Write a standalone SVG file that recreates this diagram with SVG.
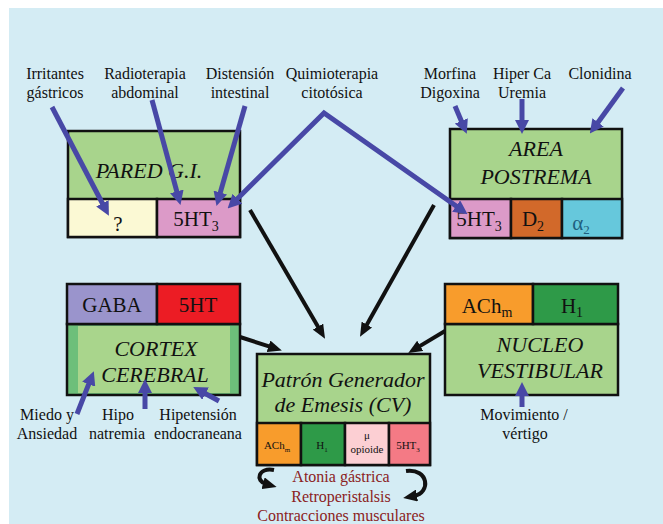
<svg xmlns="http://www.w3.org/2000/svg" width="663" height="524" viewBox="0 0 663 524" font-family="Liberation Serif, DejaVu Serif, serif">
<defs>
<style>
text{font-family:'Liberation Serif','DejaVu Serif',serif;fill:#111}
.lbl{font-size:16px;text-anchor:middle}
.ttl{font-size:22px;font-style:italic;text-anchor:middle}
.cell{font-size:21px;text-anchor:middle}
.sm{font-size:11px;text-anchor:middle}
.red{font-size:16px;text-anchor:middle;fill:#8b2222}
.box{stroke:#111;stroke-width:2.5}
.blue{stroke:#4848a6;stroke-width:5;fill:none}
.blk{stroke:#111;stroke-width:4;fill:none}
</style>
<marker id="bh" viewBox="0 0 14 14" markerWidth="14" markerHeight="14" refX="3" refY="7" orient="auto-start-reverse" markerUnits="userSpaceOnUse"><path d="M0,0 L14,7 L0,14 z" fill="#4848a6"/></marker>
<marker id="kh" viewBox="0 0 14 12" markerWidth="14" markerHeight="12" refX="3" refY="6" orient="auto-start-reverse" markerUnits="userSpaceOnUse"><path d="M0,0 L14,6 L0,12 z" fill="#111"/></marker>
</defs>
<rect x="0" y="0" width="663" height="524" fill="#ffffff"/>
<rect x="9" y="8" width="654" height="516" fill="#d4ecf4"/>

<g id="pared">
<rect class="box" x="68" y="131" width="172" height="106" fill="#a8d48c"/>
<rect class="box" x="68" y="199" width="89" height="38" fill="#fbf9d4"/>
<rect class="box" x="157" y="199" width="83" height="38" fill="#dc9ac8"/>
<text class="ttl" x="149" y="178">PARED G.I.</text>
<text class="cell" x="118" y="231" font-size="18">?</text>
<text class="cell" x="196" y="226">5HT<tspan font-size="14" dy="5">3</tspan></text>
</g>

<g id="area">
<rect class="box" x="450" y="129" width="172" height="109" fill="#a8d48c"/>
<rect class="box" x="450" y="199" width="61" height="39" fill="#dc9ac8"/>
<rect class="box" x="511" y="199" width="51" height="39" fill="#d2692a"/>
<rect class="box" x="562" y="199" width="60" height="39" fill="#66c8dc"/>
<text class="ttl" x="536" y="156">AREA</text>
<text class="ttl" x="536" y="184">POSTREMA</text>
<text class="cell" x="479" y="226">5HT<tspan font-size="14" dy="5">3</tspan></text>
<text class="cell" x="533" y="226">D<tspan font-size="14" dy="5">2</tspan></text>
<text class="cell" x="581" y="230" font-size="18" style="fill:#1f5f80">α<tspan font-size="13" dy="4">2</tspan></text>
</g>

<g id="cortex">
<rect class="box" x="67" y="324" width="173" height="71" fill="#6dbf7a"/>
<rect x="78" y="326" width="152" height="67" fill="#a9d58c"/>
<rect class="box" x="67" y="284" width="90" height="40" fill="#9a94cc"/>
<rect class="box" x="157" y="284" width="83" height="40" fill="#ec1c24"/>
<text class="cell" x="112" y="312">GABA</text>
<text class="cell" x="198" y="312">5HT</text>
<text class="ttl" x="156" y="356">CORTEX</text>
<text class="ttl" x="155" y="382">CEREBRAL</text>
</g>

<g id="nucleo">
<rect class="box" x="445" y="324" width="173" height="71" fill="#a8d48c"/>
<rect class="box" x="445" y="284" width="88" height="40" fill="#f89c2c"/>
<rect class="box" x="533" y="284" width="85" height="40" fill="#2e9a48"/>
<text class="cell" x="487" y="313">ACh<tspan font-size="14" dy="4">m</tspan></text>
<text class="cell" x="572" y="313">H<tspan font-size="14" dy="4">1</tspan></text>
<text class="ttl" x="540" y="352">NUCLEO</text>
<text class="ttl" x="540" y="378">VESTIBULAR</text>
</g>

<g id="cpg">
<rect class="box" x="257" y="354" width="173" height="111" fill="#a8d48c"/>
<rect class="box" x="257" y="423" width="44" height="42" fill="#f89c2c"/>
<rect class="box" x="301" y="423" width="44" height="42" fill="#2e9a48"/>
<rect class="box" x="345" y="423" width="44" height="42" fill="#fccfd3"/>
<rect class="box" x="389" y="423" width="41" height="42" fill="#f47a85"/>
<text class="ttl" x="343" y="387" font-size="18">Patrón Generador</text>
<text class="ttl" x="343" y="412" font-size="18">de Emesis (CV)</text>
<text class="sm" x="277" y="449">ACh<tspan font-size="7" dy="3">m</tspan></text>
<text class="sm" x="322" y="449">H<tspan font-size="7" dy="3">1</tspan></text>
<text class="sm" x="367" y="439">μ</text>
<text class="sm" x="367" y="453">opioide</text>
<text class="sm" x="408" y="449">5HT<tspan font-size="7" dy="3">3</tspan></text>
</g>

<g id="labels">
<text class="lbl" x="55" y="79">Irritantes</text>
<text class="lbl" x="55" y="98">gástricos</text>
<text class="lbl" x="145" y="79">Radioterapia</text>
<text class="lbl" x="145" y="98">abdominal</text>
<text class="lbl" x="240" y="79">Distensión</text>
<text class="lbl" x="240" y="98">intestinal</text>
<text class="lbl" x="332" y="79">Quimioterapia</text>
<text class="lbl" x="332" y="98">citotósica</text>
<text class="lbl" x="450" y="79">Morfina</text>
<text class="lbl" x="450" y="98">Digoxina</text>
<text class="lbl" x="522" y="79">Hiper Ca</text>
<text class="lbl" x="522" y="98">Uremia</text>
<text class="lbl" x="600" y="79">Clonidina</text>
<text class="lbl" x="47" y="420">Miedo y</text>
<text class="lbl" x="47" y="439">Ansiedad</text>
<text class="lbl" x="118" y="420">Hipo</text>
<text class="lbl" x="117" y="439">natremia</text>
<text class="lbl" x="198" y="420">Hipetensión</text>
<text class="lbl" x="198" y="439">endocraneana</text>
<text class="lbl" x="524" y="420">Movimiento /</text>
<text class="lbl" x="525" y="439">vértigo</text>
<text class="red" x="341" y="482">Atonia gástrica</text>
<text class="red" x="341" y="502">Retroperistalsis</text>
<text class="red" x="341" y="521">Contracciones musculares</text>
</g>

<g id="connectors">
<line class="blue" x1="52" y1="107" x2="103.8" y2="206" marker-end="url(#bh)"/>
<line class="blue" x1="152" y1="100" x2="177.6" y2="194.3" marker-end="url(#bh)"/>
<line class="blue" x1="245" y1="106" x2="219.5" y2="195.4" marker-end="url(#bh)"/>
<polyline class="blue" points="235.4,200.7 324,113 458.6,207.8" marker-start="url(#bh)" marker-end="url(#bh)"/>
<line class="blue" x1="455" y1="106" x2="462.5" y2="123.7" marker-end="url(#bh)"/>
<line class="blue" x1="522" y1="99" x2="522" y2="123" marker-end="url(#bh)"/>
<line class="blue" x1="623" y1="88" x2="596.3" y2="124.7" marker-end="url(#bh)"/>
<line class="blue" x1="77" y1="414" x2="89.8" y2="381.4" marker-end="url(#bh)"/>
<line class="blue" x1="145" y1="409" x2="145" y2="390" marker-end="url(#bh)"/>
<line class="blue" x1="219" y1="401" x2="202.9" y2="392.3" marker-end="url(#bh)"/>
<line class="blue" x1="522" y1="407" x2="522" y2="393" marker-end="url(#bh)"/>
<line class="blk" x1="250" y1="210" x2="319.5" y2="329.2" marker-end="url(#kh)"/>
<line class="blk" x1="434" y1="205" x2="365.4" y2="327.2" marker-end="url(#kh)"/>
<line class="blk" x1="240" y1="337" x2="271.4" y2="347.2" marker-end="url(#kh)"/>
<line class="blk" x1="445" y1="331" x2="417.7" y2="347.4" marker-end="url(#kh)"/>
<path class="blk" d="M274,470 C258,467 255,481 266,484" marker-end="url(#kh)"/>
<path class="blk" d="M406,471 C429,468 431,493 414,496" marker-end="url(#kh)"/>
</g>
</svg>
